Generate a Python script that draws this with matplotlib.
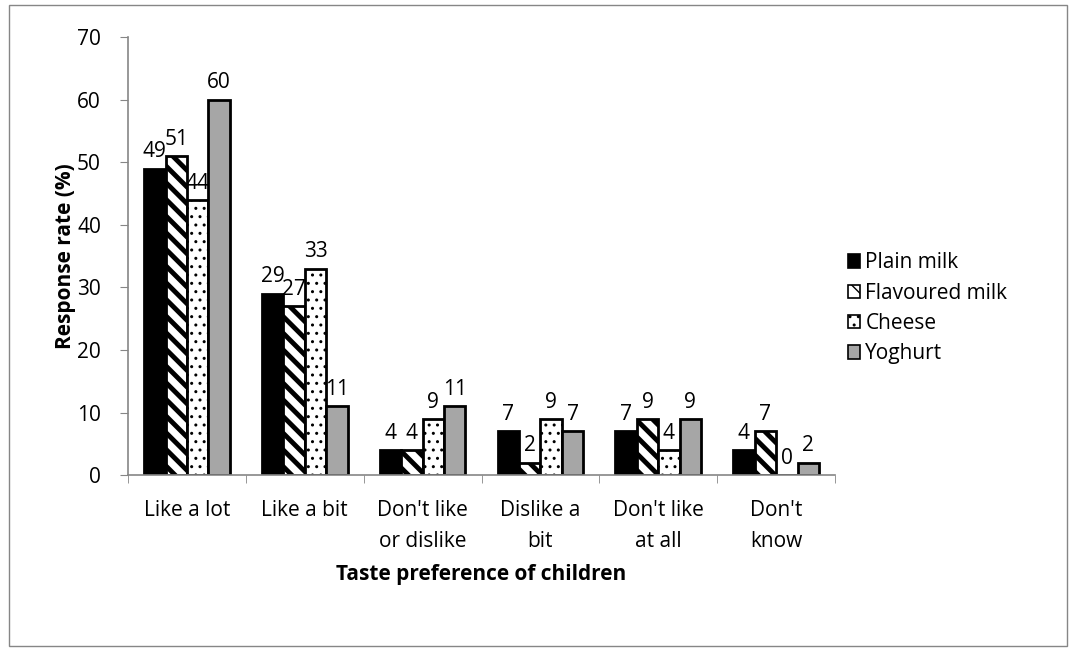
import numpy as np
import matplotlib.pyplot as plt
from matplotlib.patches import Rectangle

plt.rcParams['font.family'] = ['Open Sans', 'DejaVu Sans']

categories = ["Like a lot", "Like a bit", "Don't like\nor dislike", "Dislike a\nbit",
              "Don't like\nat all", "Don't\nknow"]
plain_milk = [49, 29, 4, 7, 7, 4]
flavoured_milk = [51, 27, 4, 2, 9, 7]
cheese = [44, 33, 9, 9, 4, 0]
yoghurt = [60, 11, 11, 7, 9, 2]

# name, values, fill, hatch, hatch line width
series = [
    ("Plain milk", plain_milk, "black", None, 1.0),
    ("Flavoured milk", flavoured_milk, "white", "\\\\", 3.5),
    ("Cheese", cheese, "white", "..", 1.0),
    ("Yoghurt", yoghurt, "#a6a6a6", None, 1.0),
]

fig = plt.figure(figsize=(10.76, 6.51), dpi=100)
ax = fig.add_axes([0.119, 0.270, 0.657, 0.673])

x = np.arange(len(categories))
w = 0.182
for i, (name, vals, color, hatch, hlw) in enumerate(series):
    pos = x + (i - 1.5) * w
    with plt.rc_context({'hatch.linewidth': hlw}):
        bars = ax.bar(pos, vals, w, color=color, edgecolor="black", linewidth=2,
                      hatch=hatch, label=name)
    for b, v in zip(bars, vals):
        if hasattr(b, "set_hatch_linewidth"):
            b.set_hatch_linewidth(hlw)
        ax.text(b.get_x() + b.get_width() / 2, v + 1.0, str(v),
                ha="center", va="bottom", fontsize=15)

ax.set_xlim(-0.5, len(categories) - 0.5)
ax.set_ylim(0, 70)
ax.set_yticks(range(0, 71, 10))
ax.set_xticks(x)
ax.set_xticklabels(categories, fontsize=15, linespacing=1.6)
ax.set_xticks(np.arange(-0.5, len(categories), 1), minor=True)
ax.tick_params(axis="x", which="major", length=0, pad=18)
ax.tick_params(axis="x", which="minor", length=5.5, color="#868686")
ax.tick_params(axis="y", labelsize=15, length=5.5, color="#868686", pad=14)

for s in ["top", "right"]:
    ax.spines[s].set_visible(False)
for s in ["left", "bottom"]:
    ax.spines[s].set_color("#868686")
    ax.spines[s].set_linewidth(1.2)

ax.set_ylabel("Response rate (%)", fontsize=15, fontweight="bold", labelpad=1)
ax.set_xlabel("Taste preference of children", fontsize=15, fontweight="bold", labelpad=9)

leg = ax.legend(loc="center left", bbox_to_anchor=(1.018, 0.381), frameon=False,
                fontsize=15, handlelength=0.6, handleheight=0.6, handletextpad=0.25,
                labelspacing=0.45, borderpad=0, borderaxespad=0)
for h in leg.legend_handles:
    h.set_linewidth(1.2)

fig.patches.append(Rectangle((0.008, 0.008), 0.984, 0.984, transform=fig.transFigure,
                             fill=False, edgecolor="#868686", linewidth=1))

fig.savefig("out.png", dpi=100)
